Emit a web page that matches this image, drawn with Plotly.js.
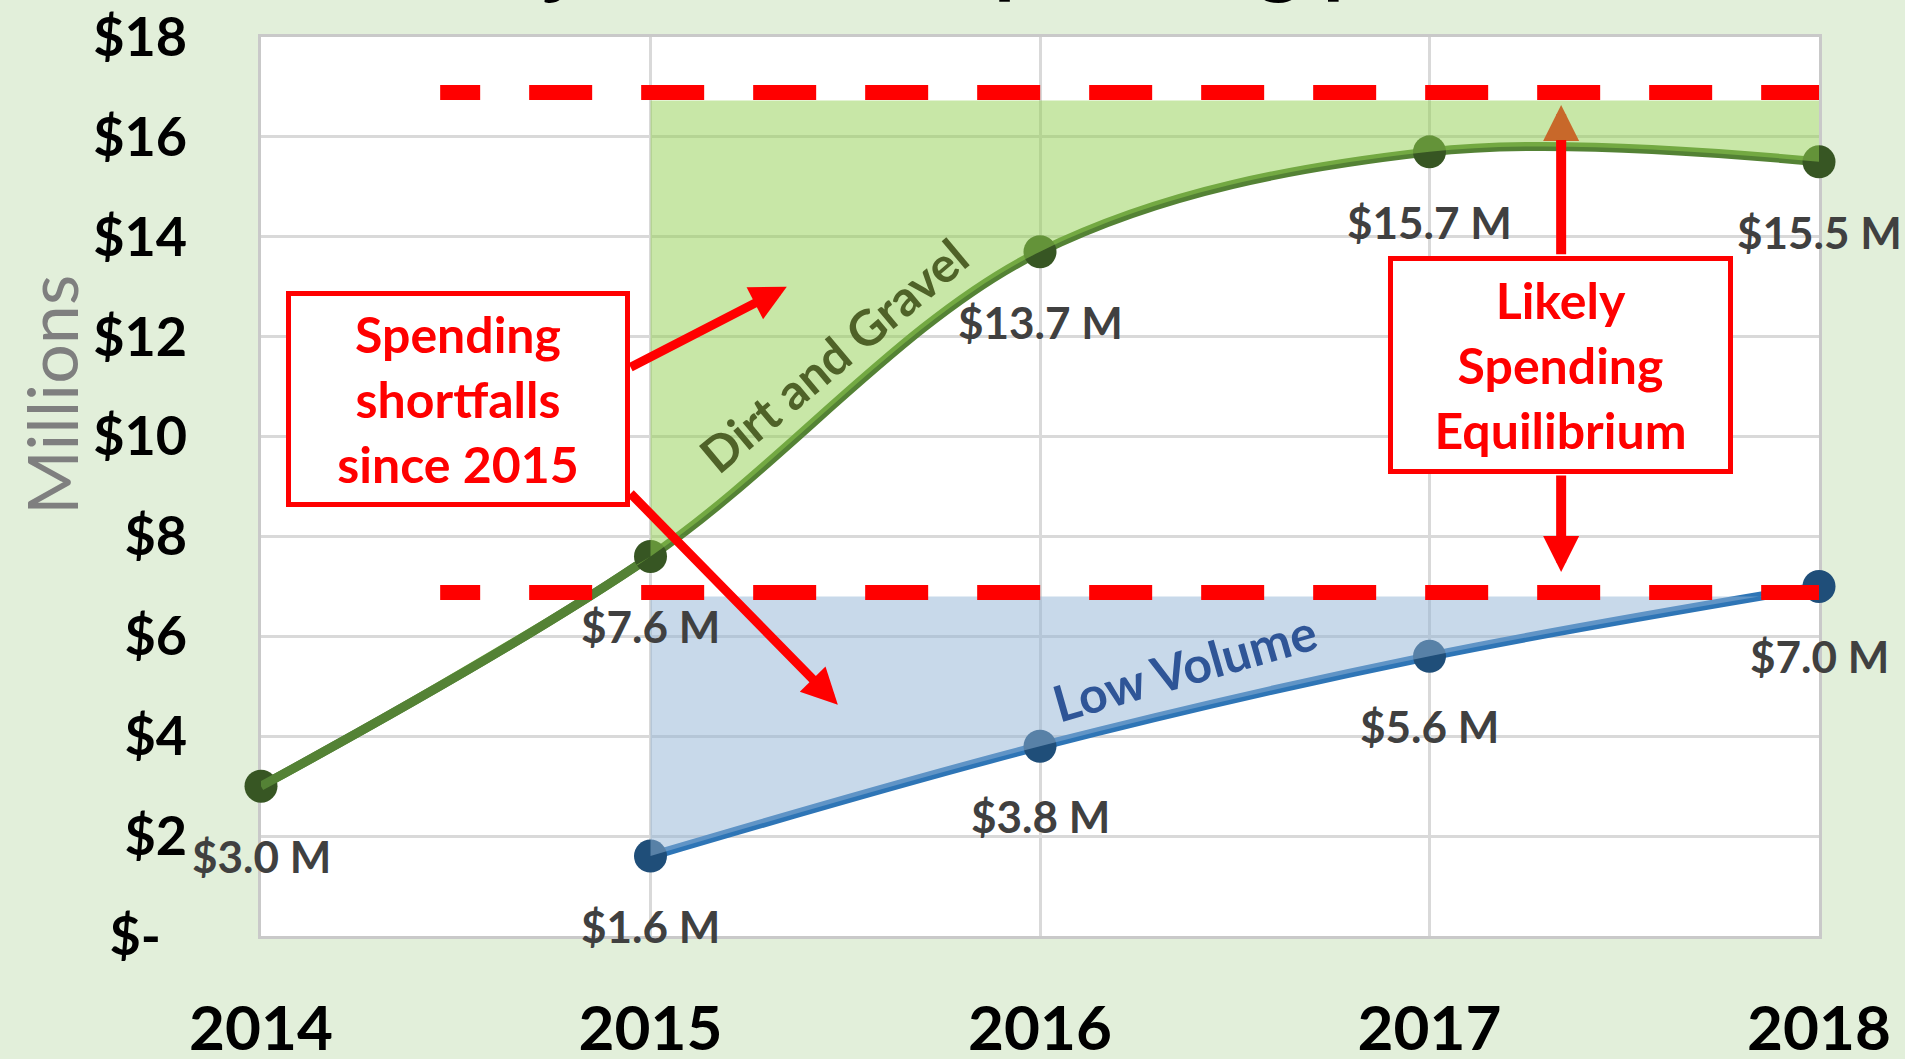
<!DOCTYPE html>
<html>
<head>
<meta charset="utf-8">
<script src="https://cdn.plot.ly/plotly-3.0.1.min.js"></script>
<style>html,body{margin:0;padding:0;background:#e2efda;overflow:hidden}</style>
</head>
<body>
<div id="chart" style="width:1905px;height:1059px"></div>
<script>
// ---- data ----
const years = [2014, 2015, 2016, 2017, 2018];
const yearLabels = ['2014', '2015', '2016', '2017', '2018'];
const dirtGravel = [3.0, 7.6, 13.7, 15.7, 15.5];
const dirtLabels = ['$3.0 M', '$7.6 M', '$13.7 M', '$15.7 M', '$15.5 M'];
const lowVolumeYears = [2015, 2016, 2017, 2018];
const lowVolume = [1.6, 3.8, 5.6, 7.0];
const lowLabels = ['$1.6 M', '$3.8 M', '$5.6 M', '$7.0 M'];
const yTickVals = [0, 2, 4, 6, 8, 10, 12, 14, 16, 18];
const yTickText = ['$-\u00a0\u00a0', '$2', '$4', '$6', '$8', '$10', '$12', '$14', '$16', '$18'];
const shortfallStartYear = 2015;
const shortfallEndYear = 2018;
const dirtEquilibrium = 16.73;   // top of the green shortfall area
const lowEquilibrium = 6.8;      // top of the blue shortfall area
const upperTarget = 16.89;       // red dashed lines
const lowerTarget = 6.88;
const targetStart = 2014.46;
const targetEnd = 2018.01;

const FONT = "Lato, 'Open Sans', sans-serif";
const GREEN_LINE = '#548235', GREEN_MARK = '#375623';
const BLUE_LINE = '#2e75b6', BLUE_MARK = '#1f4e79';

// upper boundary of the green area: follows the line chord before 2015, then the equilibrium level
const i15 = years.indexOf(shortfallStartYear);
const dirtTopX = years.slice(0, i15 + 1).concat([shortfallStartYear, shortfallEndYear]);
const dirtTopY = dirtGravel.slice(0, i15 + 1).concat([dirtEquilibrium, dirtEquilibrium]);

const traces = [
  { x: years, y: dirtGravel, type: 'scatter', mode: 'lines+markers', name: 'Dirt and Gravel',
    line: { color: GREEN_LINE, width: 9, shape: 'spline' },
    marker: { color: GREEN_MARK, size: 33 }, cliponaxis: false, hoverinfo: 'skip' },
  { x: lowVolumeYears, y: lowVolume, type: 'scatter', mode: 'lines+markers', name: 'Low Volume',
    line: { color: BLUE_LINE, width: 9, shape: 'spline' },
    marker: { color: BLUE_MARK, size: 33 }, cliponaxis: false, hoverinfo: 'skip' },
  { x: dirtTopX, y: dirtTopY, type: 'scatter', mode: 'lines',
    line: { width: 0, color: 'rgba(0,0,0,0)' }, hoverinfo: 'skip', cliponaxis: false },
  { x: years, y: dirtGravel, type: 'scatter', mode: 'lines', fill: 'tonexty',
    fillcolor: 'rgba(146,208,80,0.5)', line: { width: 0, color: 'rgba(0,0,0,0)', shape: 'spline' },
    hoverinfo: 'skip', cliponaxis: false },
  { x: [shortfallStartYear, shortfallEndYear], y: [lowEquilibrium, lowEquilibrium], type: 'scatter', mode: 'lines',
    line: { width: 0, color: 'rgba(0,0,0,0)' }, hoverinfo: 'skip', cliponaxis: false },
  { x: lowVolumeYears, y: lowVolume, type: 'scatter', mode: 'lines', fill: 'tonexty',
    fillcolor: 'rgba(146,180,214,0.5)', line: { width: 0, color: 'rgba(0,0,0,0)', shape: 'spline' },
    hoverinfo: 'skip', cliponaxis: false },
  // redraw the first (2014-2015) stretch of the green line above the fill, on the same spline path
  { x: years, y: dirtGravel, type: 'scatter', mode: 'lines',
    line: { color: GREEN_LINE, width: 9, shape: 'spline', dash: '436px,20000px' },
    hoverinfo: 'skip', cliponaxis: false }
];

const labelFont = { family: FONT, size: 44, color: '#404040', weight: 'bold' };
const annotations = [];
years.forEach((yr, i) => annotations.push({ x: yr, y: dirtGravel[i], text: dirtLabels[i], showarrow: false,
  xanchor: 'center', yanchor: 'middle', yshift: -70, font: labelFont }));
lowVolumeYears.forEach((yr, i) => annotations.push({ x: yr, y: lowVolume[i], text: lowLabels[i], showarrow: false,
  xanchor: 'center', yanchor: 'middle', yshift: -70, font: labelFont }));

function arrow(x0, y0, x1, y1, color, width, head, size) {
  return { x: x1, y: y1, ax: x0, ay: y0, xref: 'x', yref: 'y', axref: 'x', ayref: 'y', text: '',
    showarrow: true, arrowcolor: color, arrowwidth: width, arrowhead: head, arrowsize: size,
    standoff: 0, startstandoff: 0 };
}
annotations.push(arrow(2014.945, 11.37, 2015.350, 13.00, '#ff0000', 9, 2, 0.8));
annotations.push(arrow(2014.945, 8.89, 2015.481, 4.63, '#ff0000', 9, 2, 0.8));
annotations.push(arrow(2017.338, 15.74, 2017.338, 16.64, '#c8682a', 10, 2, 0.72));
annotations.push(arrow(2017.338, 13.62, 2017.338, 15.94, '#ff0000', 10, 0, 1));
annotations.push(arrow(2017.338, 9.25, 2017.338, 7.29, '#ff0000', 10, 2, 0.72));

const boxFont = { family: FONT, size: 50, color: '#ff0000', weight: 'bold' };
annotations.push({ x: 2014.506, y: 10.75, text: 'Spending<br>shortfalls<br>since 2015', showarrow: false,
  font: boxFont, bgcolor: '#ffffff', bordercolor: '#ff0000', borderwidth: 5, borderpad: 0,
  width: 334, height: 206, align: 'center', xanchor: 'center', yanchor: 'middle' });
annotations.push({ x: 2017.336, y: 11.43, text: 'Likely<br>Spending<br>Equilibrium', showarrow: false,
  font: boxFont, bgcolor: '#ffffff', bordercolor: '#ff0000', borderwidth: 5, borderpad: 0,
  width: 335, height: 208, align: 'center', xanchor: 'center', yanchor: 'middle' });

annotations.push({ x: 2015.469, y: 11.63, text: 'Dirt and Gravel', showarrow: false, textangle: -40,
  font: { family: FONT, size: 49, color: '#4f6228', weight: 'bold' } });
annotations.push({ x: 2016.372, y: 5.39, text: 'Low Volume', showarrow: false, textangle: -16,
  font: { family: FONT, size: 50, color: '#2f5597', weight: 'bold' } });

annotations.push({ xref: 'paper', yref: 'paper', x: 0.4897, y: 1, xanchor: 'center', yanchor: 'bottom', yshift: 30,
  text: 'Project Grant Spending per Year', showarrow: false,
  font: { family: FONT, size: 86, color: '#000000', weight: 'bold' } });
annotations.push({ xref: 'paper', yref: 'paper', x: -0.1348, y: 0.6018, xanchor: 'center', yanchor: 'middle',
  text: 'Millions', textangle: -90, showarrow: false,
  font: { family: FONT, size: 70, color: '#7f7f7f', weight: 400 } });

const dashPattern = ['40px', '49px'].concat(Array(13).fill('63px,49px')).join(',');
const shapes = [upperTarget, lowerTarget].map(v => ({
  type: 'line', xref: 'x', yref: 'y', x0: targetStart, x1: targetEnd, y0: v, y1: v,
  line: { color: '#ff0000', width: 15, dash: dashPattern }, layer: 'above'
}));

const layout = {
  width: 1905, height: 1059,
  margin: { l: 261, r: 86, t: 37, b: 123, pad: 0 },
  paper_bgcolor: '#e2efda', plot_bgcolor: '#ffffff',
  showlegend: false,
  xaxis: { range: [2014, 2018], tickvals: years, ticktext: yearLabels, ticks: 'outside', ticklen: 37,
    tickcolor: 'rgba(0,0,0,0)', tickfont: { family: FONT, size: 62, color: '#000000', weight: 'bold' },
    showgrid: true, gridcolor: '#d9d9d9', gridwidth: 3, showline: true, linecolor: '#c9c9c9', linewidth: 3,
    mirror: true, zeroline: false, layer: 'below traces', fixedrange: true },
  yaxis: { range: [0, 18], tickvals: yTickVals, ticktext: yTickText, ticks: 'outside', ticklen: 60,
    tickcolor: 'rgba(0,0,0,0)', tickfont: { family: FONT, size: 54, color: '#000000', weight: 'bold' },
    showgrid: true, gridcolor: '#d9d9d9', gridwidth: 3, showline: true, linecolor: '#c9c9c9', linewidth: 3,
    mirror: true, zeroline: false, layer: 'below traces', fixedrange: true },
  annotations: annotations,
  shapes: shapes
};

Plotly.newPlot('chart', traces, layout, { displayModeBar: false, staticPlot: true });
</script>
</body>
</html>
